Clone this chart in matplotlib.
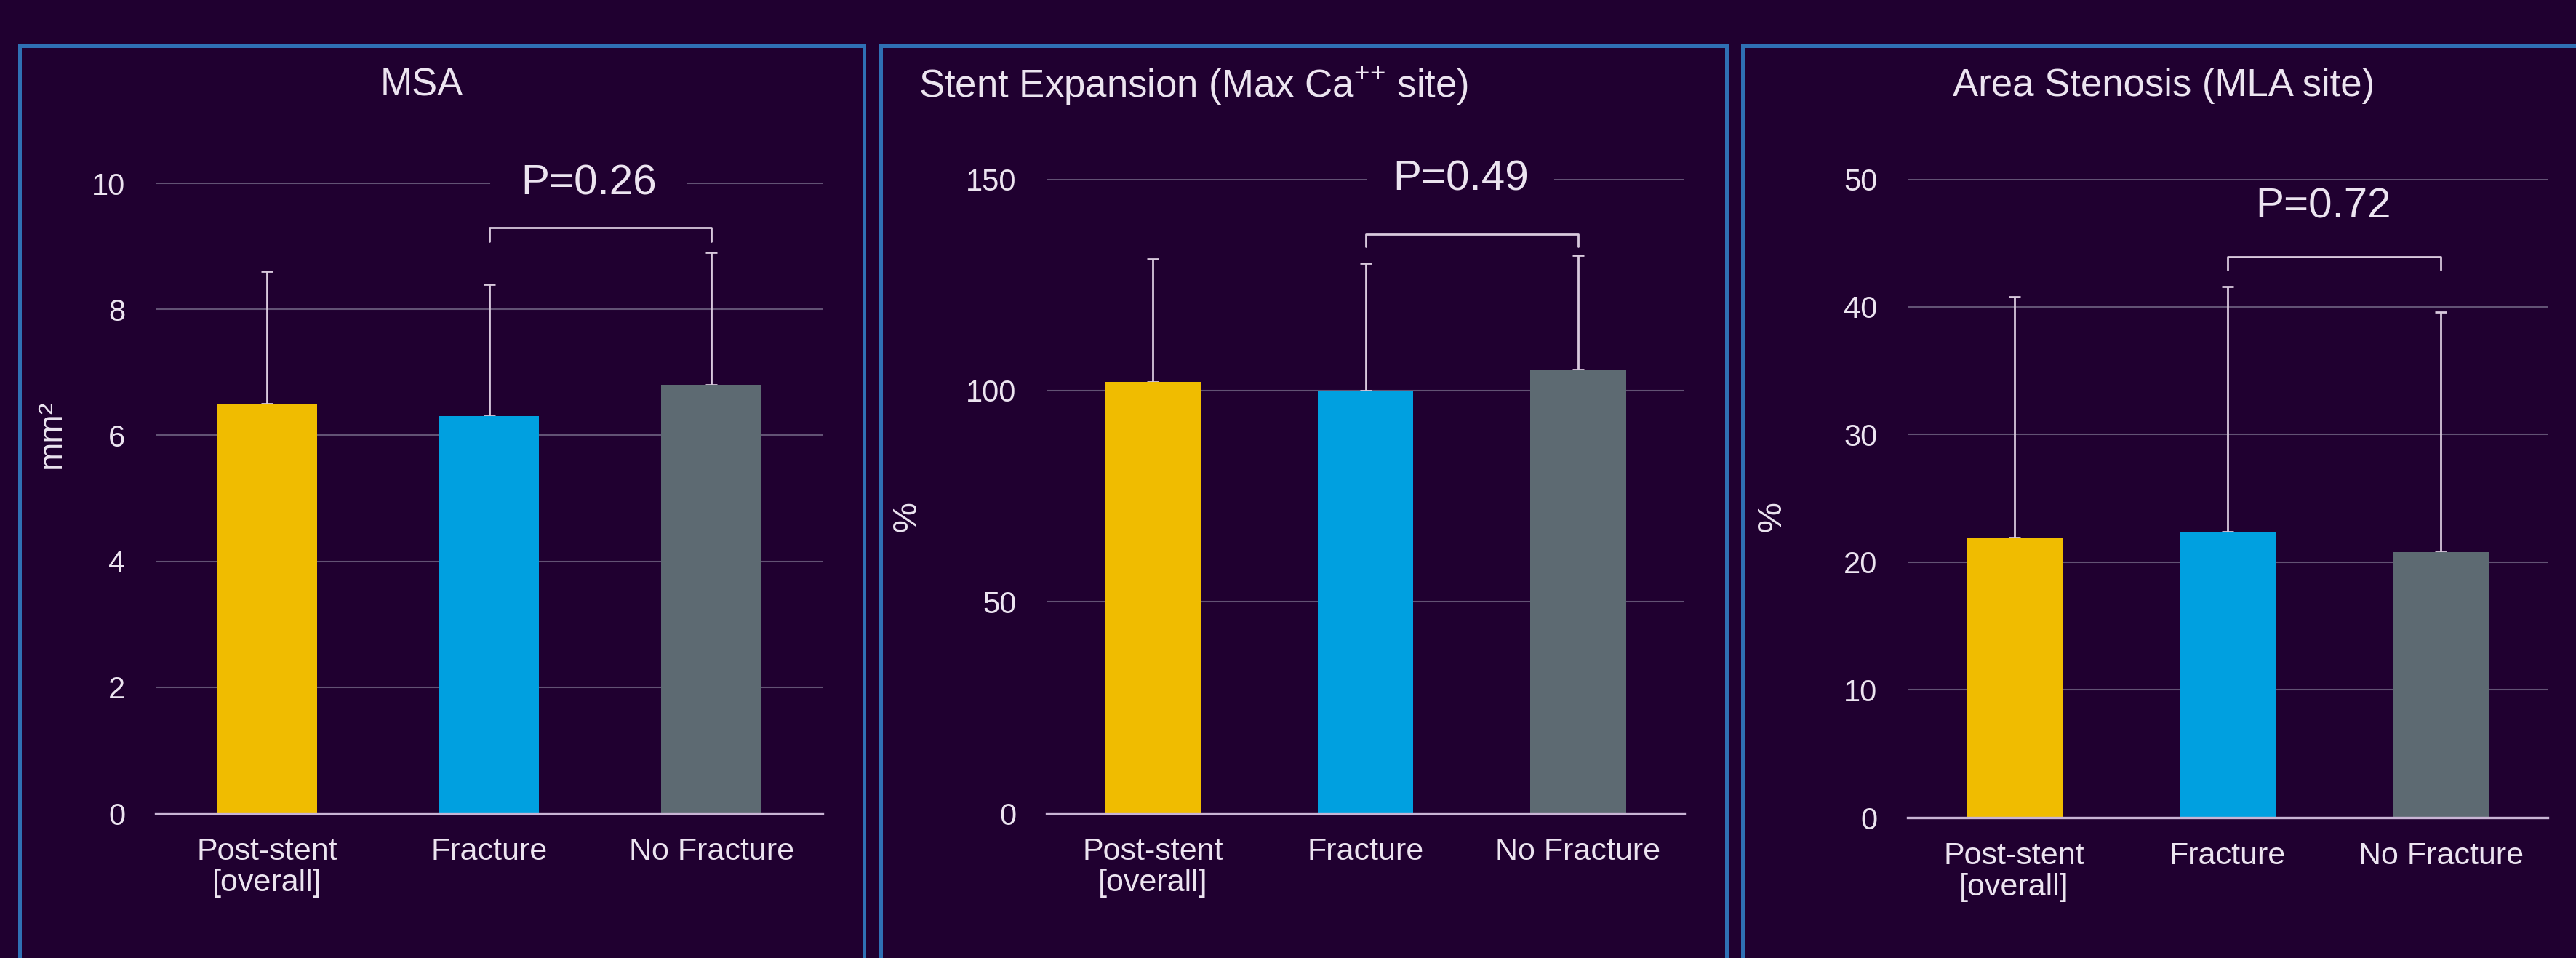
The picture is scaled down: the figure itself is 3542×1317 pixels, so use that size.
import matplotlib
matplotlib.use("Agg")
import matplotlib.pyplot as plt
from matplotlib.patches import Rectangle

plt.rcParams['font.family'] = ['Liberation Sans', 'DejaVu Sans']
plt.rcParams['mathtext.fontset'] = 'custom'
plt.rcParams['mathtext.rm'] = 'Liberation Sans'

# ---- data ----
categories = ["Post-stent\n[overall]", "Fracture", "No Fracture"]

msa_mean = [6.5, 6.3, 6.8]
msa_sd = [2.1, 2.1, 2.1]
msa_p = "P=0.26"

exp_mean = [102, 100, 105]
exp_sd = [29, 30, 27]
exp_p = "P=0.49"

sten_mean = [21.9, 22.4, 20.8]
sten_sd = [18.9, 19.2, 18.8]
sten_p = "P=0.72"

titles = ["MSA", r"Stent Expansion (Max Ca$^{\mathregular{{+}{+}}}$ site)", "Area Stenosis (MLA site)"]
ylabels = ["mm²", "%", "%"]
yticks_list = [[0, 2, 4, 6, 8, 10], [0, 50, 100, 150], [0, 10, 20, 30, 40, 50]]

# ---- style ----
BG = "#200030"
BAR_COLORS = ["#f0bc00", "#00a0e0", "#5d6a72"]
GRID = "#625274"
ZERO = "#c8b4d4"
TXT = "#ece4f0"
ERR = "#d8c8dc"
BORDER = "#2f70b4"

W, H = 3542, 1317
DPI = 100
fig = plt.figure(figsize=(W / DPI, H / DPI), dpi=DPI, facecolor=BG)

def px_rect(x0, y0, x1, y1):
    return [x0 / W, 1 - y1 / H, (x1 - x0) / W, (y1 - y0) / H]

# panel borders
for (x0, x1) in [(27, 1188), (1211, 2374), (2396, 3600)]:
    r = Rectangle((x0 / W, -0.1), (x1 - x0) / W, (1 - 63 / H) + 0.1,
                  transform=fig.transFigure, fill=False, edgecolor=BORDER,
                  linewidth=3.6, zorder=0)
    fig.patches.append(r)

axes_px = [(214, 252, 1131, 1118), (1439, 246, 2316, 1118), (2623, 246, 3503, 1124)]
means = [msa_mean, exp_mean, sten_mean]
sds = [msa_sd, exp_sd, sten_sd]
pvals = [msa_p, exp_p, sten_p]
ylims = [(0, 10), (0, 150), (0, 50)]
bracket = [(9.3, 9.08, 10.0, True), (137, 134, 150, True), (43.9, 42.9, 47.8, False)]

for i in range(3):
    ax = fig.add_axes(px_rect(*axes_px[i]))
    ax.set_facecolor("none")
    x = list(range(3))
    ax.set_xlim(-0.5, 2.5)
    ax.set_ylim(*ylims[i])
    top, low, ptxt_y, gap = bracket[i]
    for yt in yticks_list[i][1:]:
        if gap and yt == ylims[i][1]:
            ax.axhline(yt, xmin=0, xmax=0.50, color=GRID, lw=1.5, zorder=0)
            ax.axhline(yt, xmin=0.797, xmax=1, color=GRID, lw=1.5, zorder=0)
        else:
            ax.axhline(yt, color=GRID, lw=1.5, zorder=0)
    ax.axhline(0, color=ZERO, lw=2.4, zorder=3, clip_on=False)
    ax.bar(x, means[i], width=0.45, color=BAR_COLORS, zorder=2)
    ax.errorbar(x, means[i], yerr=[[0, 0, 0], sds[i]], fmt="none",
                ecolor=ERR, elinewidth=2.0, capsize=6, capthick=2.0, zorder=1)
    ax.plot([1, 1, 2, 2], [low, top, top, low], color=ERR, lw=2.0,
            solid_joinstyle="round", solid_capstyle="round", zorder=3)
    ax.text(1.45, ptxt_y, pvals[i], ha="center", va="center", fontsize=42,
            color=TXT, zorder=4)
    for s in ax.spines.values():
        s.set_visible(False)
    ax.set_yticks(yticks_list[i])
    ax.set_yticklabels([str(v) for v in yticks_list[i]])
    ax.set_xticks(x)
    ax.set_xticklabels(categories, linespacing=1.1)
    ax.tick_params(axis="y", length=0, pad=30, labelsize=30, labelcolor=TXT)
    ax.tick_params(axis="x", length=0, pad=24, labelsize=31, labelcolor=TXT)

# titles
fig.text(580 / W, 1 - 118 / H, titles[0], ha="center", va="center", fontsize=38, color=TXT)
fig.text(1263 / W, 1 - 118 / H, titles[1], ha="left", va="center", fontsize=38, color=TXT)
fig.text(2975 / W, 1 - 118 / H, titles[2], ha="center", va="center", fontsize=38, color=TXT)

# y labels
fig.text(71 / W, 1 - 597 / H, ylabels[0], rotation=90, ha="center", va="center", fontsize=34, color=TXT)
fig.text(1247 / W, 1 - 710 / H, ylabels[1], rotation=90, ha="center", va="center", fontsize=34, color=TXT)
fig.text(2436 / W, 1 - 710 / H, ylabels[2], rotation=90, ha="center", va="center", fontsize=34, color=TXT)

fig.savefig("out.png", dpi=DPI, facecolor=BG)
